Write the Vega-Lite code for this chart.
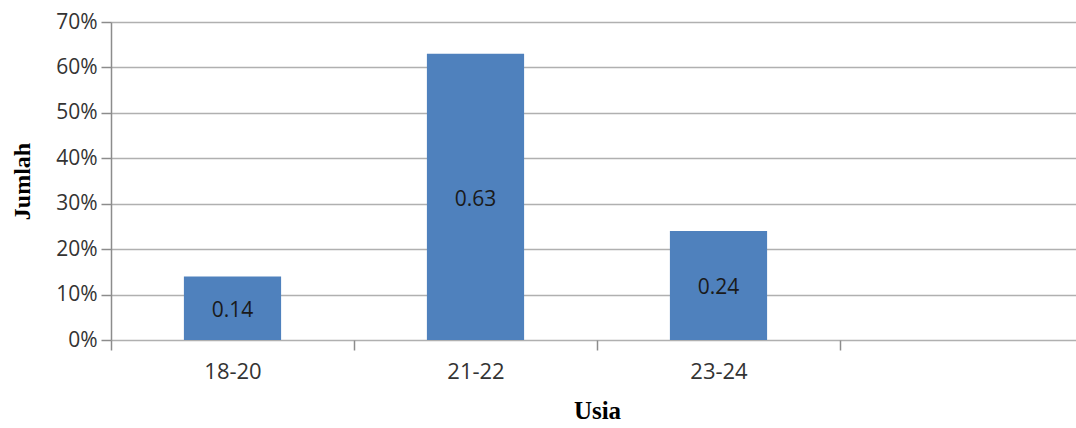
{
  "$schema": "https://vega.github.io/schema/vega-lite/v6.json",
  "width": 965,
  "height": 318,
  "autosize": {"type": "none"},
  "padding": {"left": 111, "top": 22, "right": 0, "bottom": 88},
  "background": "white",
  "config": {"view": {"stroke": null}},
  "data": {
    "values": [
      {"usia": "18-20", "jumlah": 0.14},
      {"usia": "21-22", "jumlah": 0.63},
      {"usia": "23-24", "jumlah": 0.24}
    ]
  },
  "encoding": {
    "x": {
      "field": "usia",
      "type": "nominal",
      "sort": null,
      "scale": {"domain": ["18-20", "21-22", "23-24", "_"], "range": [0, 972], "paddingInner": 0, "paddingOuter": 0},
      "axis": {
        "labelAngle": 0,
        "labelExpr": "datum.value == '_' ? '' : datum.value",
        "tickBand": "extent",
        "grid": false,
        "domain": false,
        "ticks": true,
        "tickSize": 10,
        "tickWidth": 1.5,
        "tickColor": "#8c8c8c",
        "labelFont": "Open Sans",
        "labelFontSize": 22,
        "labelColor": "#333333",
        "labelPadding": 11,
        "title": "Usia",
        "titleFont": "Liberation Serif",
        "titleFontSize": 25,
        "titleFontWeight": "bold",
        "titleColor": "#000000",
        "titlePadding": 16
      }
    }
  },
  "layer": [
    {
      "mark": {"type": "bar", "color": "#4f81bd", "width": {"band": 0.4}},
      "encoding": {
        "y": {
          "field": "jumlah",
          "type": "quantitative",
          "scale": {"domain": [0, 0.7], "nice": false},
          "axis": {
            "values": [0, 0.1, 0.2, 0.3, 0.4, 0.5, 0.6, 0.7],
            "format": ".0%",
            "grid": true,
            "gridColor": "#b0b0b0",
            "gridWidth": 1.5,
            "domain": true,
            "domainColor": "#8c8c8c",
            "domainWidth": 1.5,
            "tickSize": 10,
            "tickWidth": 1.5,
            "tickColor": "#8c8c8c",
            "labelFont": "Open Sans",
            "labelFontSize": 21,
            "labelColor": "#333333",
            "labelPadding": 4,
            "title": "Jumlah",
            "titleFont": "Liberation Serif",
            "titleFontSize": 24,
            "titleFontWeight": "bold",
            "titleColor": "#000000",
            "titlePadding": 21
          }
        }
      }
    },
    {
      "mark": {"type": "text", "font": "Open Sans", "fontSize": 21, "color": "#1a1a1a", "baseline": "middle", "dy": 3},
      "encoding": {
        "y": {"field": "jumlah", "type": "quantitative", "scale": {"domain": [0, 1.4], "nice": false}, "axis": null},
        "text": {"field": "jumlah", "type": "quantitative", "format": ".2f"}
      }
    }
  ],
  "resolve": {"scale": {"y": "independent"}}
}
